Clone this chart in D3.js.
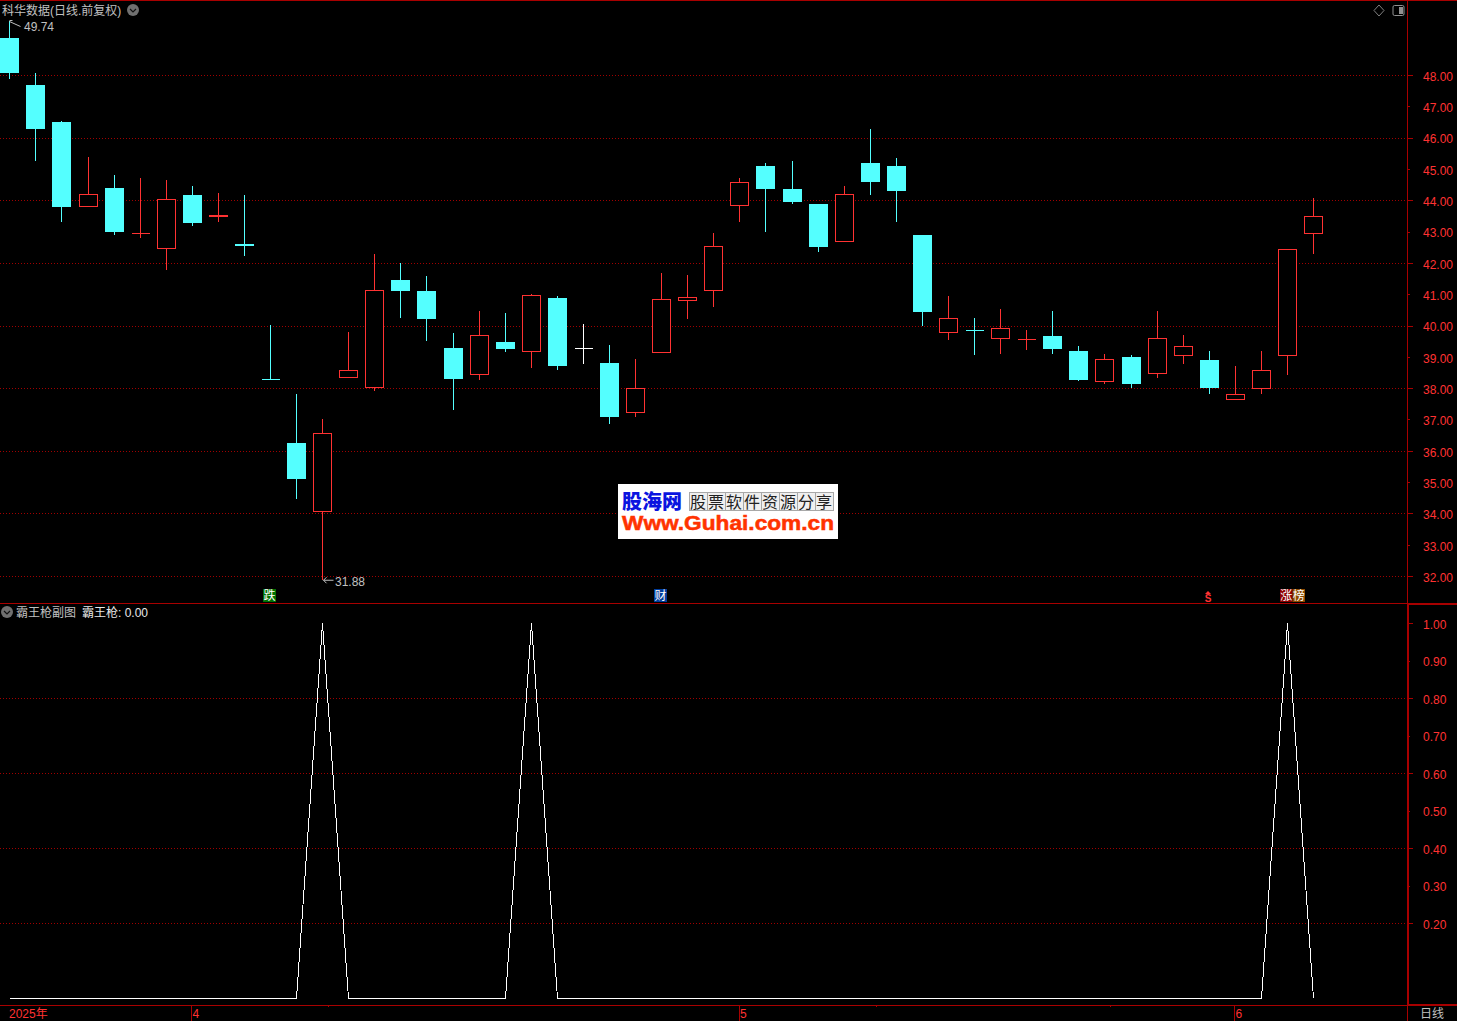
<!DOCTYPE html>
<html><head><meta charset="utf-8">
<style>
html,body{margin:0;padding:0;background:#000;overflow:hidden}
svg{display:block}
text{font-family:"Liberation Sans","Noto Sans CJK SC",sans-serif;font-size:12px}
</style>
<script src="https://cdn.jsdelivr.net/npm/d3@7/dist/d3.min.js"></script>
</head><body>
<script>
// ---- data ----
const opens  = [49.18,47.68,46.50,43.83,44.39,42.94,42.48,44.17,43.46,42.60,38.29,36.25,34.08,38.36,38.04,41.45,41.10,39.28,38.46,39.47,39.18,40.88,39.27,38.80,37.25,39.16,40.81,41.14,43.86,45.09,44.36,43.88,42.71,45.19,45.09,42.89,39.80,39.85,39.60,39.57,39.66,39.18,38.23,38.99,38.48,39.06,38.90,37.65,38.00,39.06,42.95];
const closes = [48.07,46.28,43.78,44.19,42.99,42.95,44.03,43.27,43.53,42.54,38.28,35.10,36.56,38.57,41.12,41.10,40.21,38.29,39.69,39.25,40.96,38.71,39.27,37.08,38.00,40.84,40.91,42.53,44.57,44.36,43.94,42.51,44.19,44.58,44.30,40.43,40.23,39.84,39.92,39.58,39.25,38.26,38.93,38.13,39.60,39.34,38.00,37.81,38.58,42.44,43.50];
const highs  = [49.74,48.05,46.53,45.38,44.81,44.71,44.65,44.45,44.23,44.17,40.02,37.81,37.01,39.79,42.28,41.99,41.58,39.76,40.46,40.40,41.01,40.94,40.05,39.38,38.93,41.68,41.61,42.95,44.71,45.19,45.25,43.88,44.45,46.28,45.35,42.89,40.94,40.24,40.53,39.86,40.46,39.34,39.09,39.06,40.46,39.70,39.18,38.71,39.18,42.44,44.07];
const lows   = [47.88,45.26,43.31,43.79,42.89,42.80,41.78,43.18,43.31,42.22,38.28,34.46,31.88,38.32,37.91,40.24,39.50,37.30,38.26,39.15,38.64,38.58,38.77,36.85,37.08,39.16,40.21,40.59,43.30,42.99,43.88,42.35,42.71,44.17,43.30,39.98,39.54,39.06,39.09,39.22,39.09,38.23,38.13,38.00,38.32,38.77,37.81,37.62,37.81,38.42,42.28];
const signal = [0,0,0,0,0,0,0,0,0,0,0,0,1,0,0,0,0,0,0,0,1,0,0,0,0,0,0,0,0,0,0,0,0,0,0,0,0,0,0,0,0,0,0,0,0,0,0,0,0,1,0];
const priceTicks = [48,47,46,45,44,43,42,41,40,39,38,37,36,35,34,33,32];
const priceGrid  = [48,46,44,42,40,38,36,34,32];
const subTicks   = [1,0.9,0.8,0.7,0.6,0.5,0.4,0.3,0.2];
const subGrid    = [0.8,0.6,0.4,0.2];
const monthIdx    = [0,7,28,47];
const monthLabels = ["2025年","4","5","6"];
const minorIdx    = [12,33,42];
const stockTitle  = "科华数据(日线.前复权)";
const subTitle    = "霸王枪副图";
const subName     = "霸王枪: 0.00";
const periodLabel = "日线";

// ---- layout ----
const W=1457,H=1021, axisX=1407, paneSplit=603, bottomY=1005;
const RED="#ff3232", CYAN="#54ffff", FRAME="#a80000", GRID="#a00000", GREY="#c0c0c0";

const x = d3.scaleLinear().domain([0,50]).range([9.78,1313.53]);
const yP = d3.scaleLinear().domain([32,48]).range([576,75]);
const yS = d3.scaleLinear().domain([0,1]).range([998,623]);
const px = v => Math.round(v)+0.5;
const pxX = i => Math.floor(x(i))+0.5;

const svg = d3.select("body").append("svg").attr("width",W).attr("height",H).style("background","#000");
const crisp = g => g.attr("shape-rendering","crispEdges");

// grid
const gGrid = svg.append("g").call(crisp).attr("stroke",GRID).attr("stroke-dasharray","1 2");
gGrid.selectAll(".gp").data(priceGrid).join("line").attr("x1",0).attr("x2",axisX).attr("y1",d=>px(yP(d))).attr("y2",d=>px(yP(d)));
gGrid.selectAll(".gs").data(subGrid).join("line").attr("x1",0).attr("x2",axisX).attr("y1",d=>px(yS(d))).attr("y2",d=>px(yS(d)));

// candles
const candles = opens.map((o,i)=>({i,o,c:closes[i],h:highs[i],l:lows[i]}));
const colorOf = d => d.i===22 ? "#ffffff" : d.c>d.o ? RED : CYAN;
const gC = svg.append("g").call(crisp);
gC.selectAll("line.w").data(candles).join("line").attr("class","w")
  .attr("x1",d=>pxX(d.i)).attr("x2",d=>pxX(d.i))
  .attr("y1",d=>Math.round(yP(d.h))).attr("y2",d=>Math.round(yP(d.l)))
  .attr("stroke",colorOf);
gC.selectAll("g.b").data(candles).join(function(enter){
  return enter.append("g").attr("class","b").each(function(d){
    const g=d3.select(this), cx=pxX(d.i);
    const top=yP(Math.max(d.o,d.c)), bot=yP(Math.min(d.o,d.c));
    const h=bot-top;
    if(h<1){
      g.append("line").attr("x1",cx-9).attr("x2",cx+9).attr("y1",px(top)).attr("y2",px(top)).attr("stroke",colorOf(d));
    } else if(d.c<d.o || h<3){
      g.append("rect").attr("x",cx-9.5).attr("width",19)
       .attr("y",Math.round(top)).attr("height",Math.max(2,Math.round(bot)-Math.round(top)))
       .attr("fill",colorOf(d));
    } else {
      g.append("rect").attr("x",cx-9).attr("width",18)
       .attr("y",px(top)).attr("height",Math.round(bot)-Math.round(top))
       .attr("fill","#000").attr("stroke",RED);
    }
  });
});

// sub-chart line
svg.append("path").datum(signal).call(crisp)
  .attr("d",d3.line().x((d,i)=>pxX(i)).y(d=>px(yS(d))))
  .attr("fill","none").attr("stroke","#fff").attr("stroke-width",1);

// frame
const gF = svg.append("g").call(crisp).attr("stroke",FRAME);
gF.append("line").attr("x1",0).attr("x2",W).attr("y1",0.5).attr("y2",0.5);
gF.append("line").attr("x1",axisX+0.5).attr("x2",axisX+0.5).attr("y1",0).attr("y2",H);
gF.append("line").attr("x1",0).attr("x2",W).attr("y1",paneSplit+0.5).attr("y2",paneSplit+0.5);
gF.append("line").attr("x1",0).attr("x2",W).attr("y1",bottomY+0.5).attr("y2",bottomY+0.5);
gF.append("rect").attr("x",axisX+1).attr("y",paneSplit+1).attr("width",W-axisX+2).attr("height",bottomY-paneSplit-1)
  .attr("fill","none").attr("stroke-width",2);

// right axes
function styleAxis(g,longFn){
  g.select(".domain").remove();
  g.selectAll(".tick line").attr("stroke",FRAME).attr("shape-rendering","crispEdges").attr("x2",(d,i)=>longFn(d,i)?6:3);
  g.selectAll(".tick text").attr("x",16).attr("y",1.5).attr("fill",RED).style("font-size","12px").style("font-family",'"Liberation Sans",sans-serif');
}
svg.append("g").attr("transform",`translate(${axisX},0)`)
  .call(d3.axisRight(yP).tickValues(priceTicks).tickFormat(d3.format(".2f")))
  .call(g=>styleAxis(g,d=>d%2===0));
svg.append("g").attr("transform",`translate(${axisX},0)`)
  .call(d3.axisRight(yS).tickValues(subTicks).tickFormat(d3.format(".2f")))
  .call(g=>styleAxis(g,(d,i)=>i%2===0));

// bottom axis
const gX = svg.append("g").attr("transform",`translate(-1.3,${bottomY})`)
  .call(d3.axisBottom(x).tickValues(monthIdx.slice(1)).tickFormat((d,i)=>monthLabels[i+1]).tickSize(16));
gX.select(".domain").remove();
gX.selectAll(".tick line").attr("stroke",FRAME).attr("shape-rendering","crispEdges");
gX.selectAll(".tick text").attr("fill",RED).attr("text-anchor","start").attr("dx",1).attr("y",3).attr("dy","0.8em").style("font-size","12px");
svg.append("text").attr("x",9).attr("y",1018).attr("fill",RED).text(monthLabels[0]);
svg.append("g").call(crisp).selectAll("line").data(minorIdx).join("line")
  .attr("x1",d=>pxX(d)+6).attr("x2",d=>pxX(d)+6).attr("y1",bottomY).attr("y2",bottomY+2).attr("stroke",FRAME);
svg.append("text").attr("x",1420).attr("y",1018).attr("fill",GREY).text(periodLabel);

// titles
svg.append("text").attr("x",2).attr("y",15).attr("fill",GREY).text(stockTitle);
svg.append("text").attr("x",16).attr("y",617).attr("fill",GREY).text(subTitle);
svg.append("text").attr("x",82).attr("y",617).attr("fill","#e8e8e8").text(subName);

function chevron(cx,cy){
  svg.append("circle").attr("cx",cx).attr("cy",cy).attr("r",6).attr("fill","#707070");
  svg.append("path").attr("d",`M${cx-3},${cy-1}L${cx},${cy+2}L${cx+3},${cy-1}`).attr("fill","none").attr("stroke","#111").attr("stroke-width",1.2);
}
chevron(133,10); chevron(7,612);

// top right icons
svg.append("path").attr("d","M1379,5L1384,10.5L1379,16L1374,10.5Z").attr("fill","none").attr("stroke","#808080");
svg.append("rect").attr("x",1393).attr("y",5.5).attr("width",11).attr("height",10).attr("rx",1.5).attr("fill","none").attr("stroke","#909090");
svg.append("rect").attr("x",1399).attr("y",7).attr("width",4).attr("height",7).attr("fill","#909090");

// extreme labels
const hiVal=d3.max(highs), loVal=d3.min(lows);
svg.append("path").attr("d",`M${pxX(0)},${yP(hiVal)}h3M${pxX(0)},${yP(hiVal)+1}l11,5`).attr("stroke","#c0c0c0").attr("fill","none");
svg.append("text").attr("x",24).attr("y",31).attr("fill",GREY).text(hiVal.toFixed(2));
const loI=lows.indexOf(loVal);
svg.append("path").attr("d",`M${pxX(loI)+11},${yP(loVal)+0.5}H${pxX(loI)+1}m3,-3l-3,3l3,3`).attr("stroke","#c0c0c0").attr("fill","none");
svg.append("text").attr("x",335).attr("y",586).attr("fill",GREY).text(loVal.toFixed(2));

// event markers
const markers=[
  {x:263,w:13,t:"跌",bg:"#007000",fg:"#fff"},
  {x:654,w:13,t:"财",bg:"#003c9c",fg:"#fff"},
  {x:1280,w:12.5,t:"涨",bg:"#8c0000",fg:"#fff"},
  {x:1292.5,w:12.5,t:"榜",bg:"#8c4a00",fg:"#fff"}];
const gM=svg.append("g");
gM.selectAll("rect").data(markers).join("rect").attr("x",d=>d.x).attr("y",589).attr("width",d=>d.w).attr("height",13).attr("fill",d=>d.bg);
gM.selectAll("text").data(markers).join("text").attr("x",d=>d.x+d.w/2).attr("y",600).attr("text-anchor","middle").attr("fill",d=>d.fg).text(d=>d.t);
svg.append("path").attr("d","M1208,591l3,3h-6z").attr("fill",RED);
svg.append("text").attr("x",1208).attr("y",602).attr("text-anchor","middle").attr("fill",RED).style("font-size","10px").style("font-weight","bold").text("S");

// watermark
const logoCells=["股","票","软","件","资","源","分","享"];
const gL=svg.append("g");
gL.append("rect").attr("x",618).attr("y",484).attr("width",220).attr("height",55).attr("fill","#fff");
gL.append("text").attr("x",622).attr("y",509).attr("fill","#0a14e0").style("font-size","20px").style("font-weight","900")
  .attr("textLength",60).attr("lengthAdjust","spacingAndGlyphs").text("股海网");
const cellX=d3.scaleBand().domain(logoCells).range([689,833]);
gL.selectAll("rect.c").data(logoCells).join("rect").attr("class","c").attr("x",d=>cellX(d)+0.5).attr("y",492.5).attr("width",cellX.bandwidth()).attr("height",18)
  .attr("fill","#efefef").attr("stroke","#a8a8a8");
gL.selectAll("text.c").data(logoCells).join("text").attr("class","c").attr("x",d=>cellX(d)+cellX.bandwidth()/2).attr("y",507.5)
  .attr("text-anchor","middle").attr("fill","#222").style("font-size","16px").text(d=>d);
gL.append("text").attr("x",622).attr("y",530).attr("fill","#ff3300").attr("stroke","#ff3300").attr("stroke-width",0.5)
  .style("font-size","20px").style("font-weight","bold")
  .attr("textLength",212).attr("lengthAdjust","spacingAndGlyphs").text("Www.Guhai.com.cn");
</script>
</body></html>
